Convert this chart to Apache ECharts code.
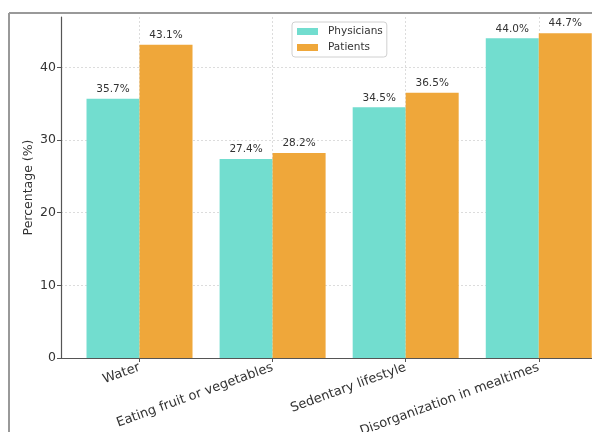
<!DOCTYPE html>
<html>
<head>
<meta charset="utf-8">
<script src="https://cdn.jsdelivr.net/npm/echarts@6/dist/echarts.min.js"></script>
<style>
html,body{margin:0;padding:0;background:#fff;}
#chart{width:592px;height:432px;}
</style>
</head>
<body>
<div id="chart"></div>
<script>
const categories = ["Water", "Eating fruit or vegetables", "Sedentary lifestyle", "Disorganization in mealtimes"];
const physicians = [35.7, 27.4, 34.5, 44.0];
const patients = [43.1, 28.2, 36.5, 44.7];
const yTicks = [0, 10, 20, 30, 40];
const seriesNames = ["Physicians", "Patients"];

const catIdx = categories.map((c, i) => i);
const font = "DejaVu Sans";
const chart = echarts.init(document.getElementById('chart'), null, {renderer: 'canvas'});

const yMax = Math.max(...physicians, ...patients) * 1.05;
// x range: matplotlib margin on the left; the right side is cropped at the picture's edge
const xMin = -0.59, xMax = 3.4;

function barSeries(name, vals, color) {
  return {
    name: name,
    type: 'bar',
    data: vals.map((v, i) => [i, v]),
    barWidth: 53,
    barGap: '0%',
    itemStyle: {color: color},
    label: {
      show: true,
      position: 'top',
      distance: 4,
      formatter: p => p.value[1].toFixed(1) + '%',
      fontFamily: font,
      fontSize: 10.5,
      color: '#333'
    }
  };
}

chart.setOption({
  animation: false,
  textStyle: {fontFamily: font},
  grid: {left: 61, top: 17, right: 0, bottom: 74, containLabel: false, outerBoundsMode: 'none'},
  legend: {
    orient: 'vertical',
    left: 292, top: 22,
    data: seriesNames,
    icon: 'rect',
    itemWidth: 21, itemHeight: 7,
    itemGap: 5,
    padding: [4, 4, 4, 5],
    borderColor: '#d0d0d0', borderWidth: 1, borderRadius: 3,
    backgroundColor: '#fff',
    textStyle: {fontFamily: font, fontSize: 10.5, color: '#333', padding: [0, 0, 0, 5]}
  },
  xAxis: {
    type: 'value',
    min: xMin, max: xMax,
    axisLine: {show: true, onZero: false, lineStyle: {color: '#555', width: 1.2}},
    axisTick: {show: true, customValues: catIdx, length: 4, lineStyle: {color: '#555'}},
    axisLabel: {
      customValues: catIdx,
      formatter: v => categories[Math.round(v)] || '',
      rotate: 20, margin: 9,
      fontFamily: font, fontSize: 13, color: '#333'
    },
    splitLine: {show: true, lineStyle: {color: '#dcdcdc', type: [2, 2], width: 1}}
  },
  yAxis: {
    type: 'value',
    min: 0, max: yMax,
    name: 'Percentage (%)',
    nameLocation: 'middle',
    nameGap: 26,
    nameMoveOverlap: false,
    nameTextStyle: {fontFamily: font, fontSize: 12.5, color: '#333'},
    axisLine: {show: true, onZero: false, lineStyle: {color: '#555', width: 1.2}},
    axisTick: {show: true, customValues: yTicks, length: 4, lineStyle: {color: '#555'}},
    axisLabel: {customValues: yTicks, margin: 5, fontFamily: font, fontSize: 12.5, color: '#333'},
    splitLine: {show: true, lineStyle: {color: '#dcdcdc', type: [2, 2], width: 1}}
  },
  graphic: [
    {type: 'line', shape: {x1: 9, y1: 13, x2: 592, y2: 13}, style: {stroke: '#999', lineWidth: 2}, z: 100},
    {type: 'line', shape: {x1: 9, y1: 13, x2: 9, y2: 432}, style: {stroke: '#999', lineWidth: 2}, z: 100}
  ],
  series: [
    barSeries(seriesNames[0], physicians, '#72DDCF'),
    barSeries(seriesNames[1], patients, '#EFA73A')
  ]
});
</script>
</body>
</html>
